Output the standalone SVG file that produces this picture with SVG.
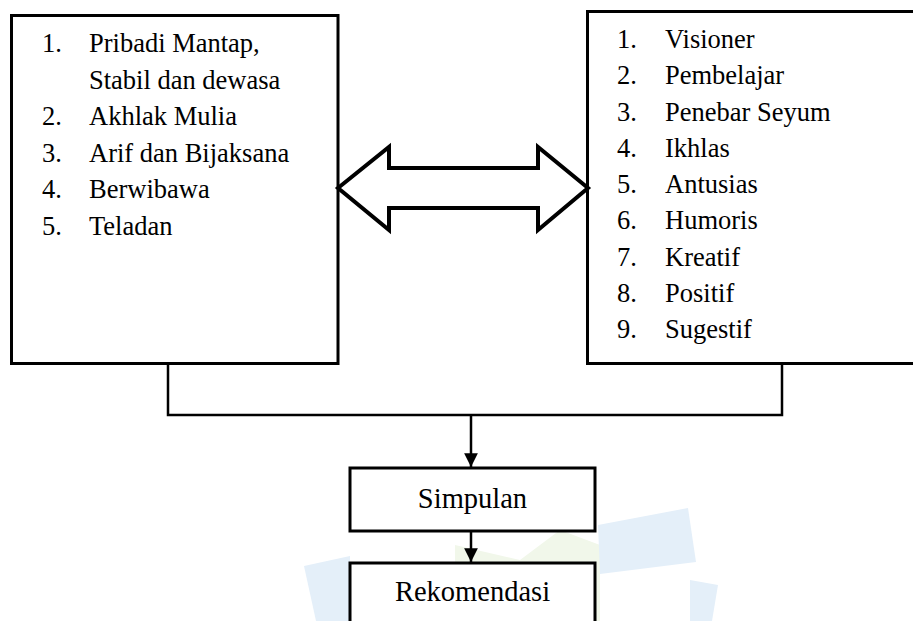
<svg xmlns="http://www.w3.org/2000/svg" width="913" height="621" viewBox="0 0 913 621">
  <style>
    .box { fill: #ffffff; stroke: #000000; stroke-width: 3; }
    .small { fill: #ffffff; stroke: #000000; stroke-width: 3; }
    .t { font-family: "Liberation Serif", "Times New Roman", serif; font-size: 26.5px; fill: #000000; }
    .tb { font-family: "Liberation Serif", "Times New Roman", serif; font-size: 28.5px; fill: #000000; text-anchor: middle; }
    .conn { fill: none; stroke: #000000; stroke-width: 2.5; }
    .wm-b { fill: #e4eff9; }
    .wm-g { fill: #f1f7ea; }
  </style>
  <defs>
    <marker id="ah" viewBox="0 0 10 10" refX="10" refY="5" markerWidth="5.5" markerHeight="5.5" markerUnits="strokeWidth" orient="auto">
      <path d="M0,0 L10,5 L0,10 Z" fill="#000000"/>
    </marker>
  </defs>
  <rect width="913" height="621" fill="#ffffff"/>

  <g id="watermark">
    <polygon class="wm-g" points="455,545 520,560 560,530 600,545 600,621 455,621"/>
    <polygon class="wm-b" points="598,525 688,508 696,562 600,574"/>
    <polygon class="wm-b" points="690,580 718,585 712,621 690,621"/>
    <polygon class="wm-b" points="304,566 350,556 350,621 316,621"/>
  </g>

  <g id="left-box">
    <rect class="box" x="11.5" y="15.5" width="326.5" height="348"/>
    <text class="t" x="42" y="52">1.</text><text class="t" x="89" y="52">Pribadi Mantap,</text>
    <text class="t" x="89" y="88.5">Stabil dan dewasa</text>
    <text class="t" x="42" y="125">2.</text><text class="t" x="89" y="125">Akhlak Mulia</text>
    <text class="t" x="42" y="161.5">3.</text><text class="t" x="89" y="161.5">Arif dan Bijaksana</text>
    <text class="t" x="42" y="198">4.</text><text class="t" x="89" y="198">Berwibawa</text>
    <text class="t" x="42" y="234.5">5.</text><text class="t" x="89" y="234.5">Teladan</text>
  </g>

  <g id="right-box">
    <rect class="box" x="587.5" y="11.5" width="330" height="352"/>
    <text class="t" x="617" y="48">1.</text><text class="t" x="665" y="48">Visioner</text>
    <text class="t" x="617" y="84.3">2.</text><text class="t" x="665" y="84.3">Pembelajar</text>
    <text class="t" x="617" y="120.5">3.</text><text class="t" x="665" y="120.5">Penebar Seyum</text>
    <text class="t" x="617" y="156.8">4.</text><text class="t" x="665" y="156.8">Ikhlas</text>
    <text class="t" x="617" y="193">5.</text><text class="t" x="665" y="193">Antusias</text>
    <text class="t" x="617" y="229.3">6.</text><text class="t" x="665" y="229.3">Humoris</text>
    <text class="t" x="617" y="265.5">7.</text><text class="t" x="665" y="265.5">Kreatif</text>
    <text class="t" x="617" y="301.8">8.</text><text class="t" x="665" y="301.8">Positif</text>
    <text class="t" x="617" y="338">9.</text><text class="t" x="665" y="338">Sugestif</text>
  </g>

  <g id="simpulan">
    <rect class="small" x="350" y="468" width="245" height="63"/>
    <text class="tb" x="472.5" y="508">Simpulan</text>
  </g>

  <g id="rekomendasi">
    <rect class="small" x="350" y="563" width="245" height="80"/>
    <text class="tb" x="472.5" y="601">Rekomendasi</text>
  </g>

  <g id="connectors">
    <path d="M338,188 L389,147 L389,168 L538,168 L538,147 L588,188 L538,230 L538,208 L389,208 L389,230 Z" fill="#ffffff" stroke="#000000" stroke-width="4" stroke-linejoin="miter"/>
    <polyline class="conn" points="168,364 168,415 782,415 782,364"/>
    <line class="conn" x1="471" y1="415" x2="471" y2="467" marker-end="url(#ah)"/>
    <line class="conn" x1="471" y1="531" x2="471" y2="562" marker-end="url(#ah)"/>
  </g>
</svg>
